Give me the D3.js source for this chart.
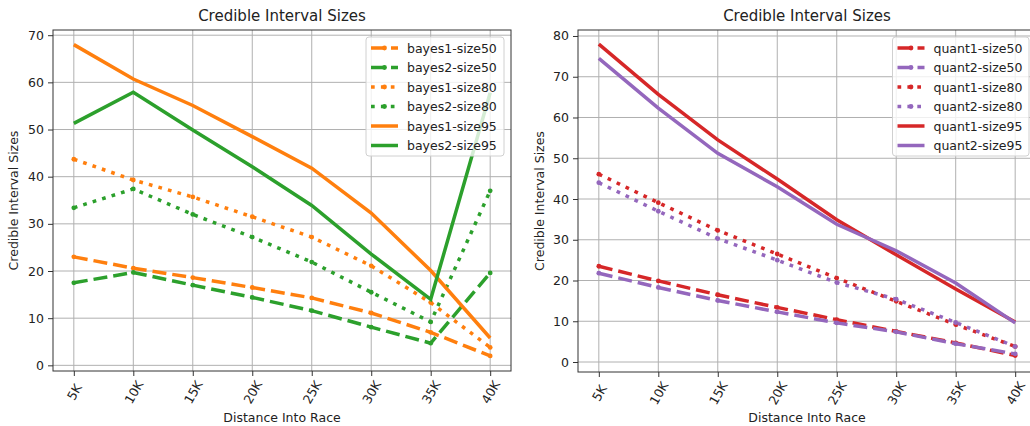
<!DOCTYPE html>
<html>
<head>
<meta charset="utf-8">
<script src="https://cdn.jsdelivr.net/npm/d3@7"></script>
<style>
  body { margin: 0; background: #fff; }
  svg text { font-family: "DejaVu Sans", sans-serif; fill: #222; }
</style>
</head>
<body>
<div id="chart"></div>
<script>
// distances along the course
const distances = ["5K", "10K", "15K", "20K", "25K", "30K", "35K", "40K"];

// left panel - bayes models
const bayes1_size50 = [23.0, 20.6, 18.6, 16.5, 14.3, 11.1, 7.0, 2.0];
const bayes2_size50 = [17.5, 19.7, 17.0, 14.4, 11.6, 8.1, 4.7, 19.6];
const bayes1_size80 = [43.7, 39.3, 35.7, 31.5, 27.2, 21.1, 13.3, 3.8];
const bayes2_size80 = [33.4, 37.4, 32.0, 27.2, 21.9, 15.5, 9.2, 37.0];
const bayes1_size95 = [68.0, 60.7, 55.1, 48.5, 41.8, 32.3, 20.1, 5.8];
const bayes2_size95 = [51.3, 57.9, 49.9, 42.1, 33.9, 23.6, 14.0, 57.8];

// right panel - quantile models
const quant1_size50 = [23.5, 19.9, 16.5, 13.4, 10.4, 7.5, 4.7, 1.6];
const quant2_size50 = [21.8, 18.3, 15.1, 12.3, 9.6, 7.4, 4.5, 2.0];
const quant1_size80 = [46.1, 39.1, 32.3, 26.5, 20.6, 14.9, 9.2, 3.8];
const quant2_size80 = [44.0, 37.0, 30.3, 25.0, 19.5, 15.4, 9.7, 3.8];
const quant1_size95 = [78.0, 65.7, 54.5, 44.9, 34.9, 26.3, 17.9, 9.8];
const quant2_size95 = [74.5, 62.3, 51.2, 43.0, 33.8, 27.3, 19.4, 9.6];

const leftTicks = [0, 10, 20, 30, 40, 50, 60, 70];
const rightTicks = [0, 10, 20, 30, 40, 50, 60, 70, 80];

const orange = "#ff7f0e", green = "#2ca02c", red = "#d62728", purple = "#9467bd";

const leftSeries = [
  { name: "bayes1-size50", values: bayes1_size50, color: orange, style: "dashed" },
  { name: "bayes2-size50", values: bayes2_size50, color: green, style: "dashed" },
  { name: "bayes1-size80", values: bayes1_size80, color: orange, style: "dotted" },
  { name: "bayes2-size80", values: bayes2_size80, color: green, style: "dotted" },
  { name: "bayes1-size95", values: bayes1_size95, color: orange, style: "solid" },
  { name: "bayes2-size95", values: bayes2_size95, color: green, style: "solid" }
];
const rightSeries = [
  { name: "quant1-size50", values: quant1_size50, color: red, style: "dashed" },
  { name: "quant2-size50", values: quant2_size50, color: purple, style: "dashed" },
  { name: "quant1-size80", values: quant1_size80, color: red, style: "dotted" },
  { name: "quant2-size80", values: quant2_size80, color: purple, style: "dotted" },
  { name: "quant1-size95", values: quant1_size95, color: red, style: "solid" },
  { name: "quant2-size95", values: quant2_size95, color: purple, style: "solid" }
];

const dashes = { dashed: "14,6", dotted: "3.7,6.2", solid: null };
const lineW = 3.5;
const dotR = 2.4;

const svg = d3.select("#chart").append("svg")
  .attr("width", 1030)
  .attr("height", 426);

function drawPanel(box, series, yDomain, yTicks, yLabelX, legendBox) {
  const x = d3.scalePoint().domain(distances).range([box.left, box.right]).padding(0.35);
  const y = d3.scaleLinear().domain(yDomain).range([box.bottom, box.top]);

  const g = svg.append("g");

  // grid
  g.append("g").selectAll("line.vg").data(distances).enter().append("line")
    .attr("x1", d => x(d)).attr("x2", d => x(d))
    .attr("y1", box.top).attr("y2", box.bottom)
    .attr("stroke", "#b0b0b0").attr("stroke-width", 1);
  g.append("g").selectAll("line.hg").data(yTicks).enter().append("line")
    .attr("x1", box.left).attr("x2", box.right)
    .attr("y1", d => y(d)).attr("y2", d => y(d))
    .attr("stroke", "#b0b0b0").attr("stroke-width", 1);

  // axes
  const xAxis = g.append("g")
    .attr("transform", "translate(0," + box.bottom + ")")
    .call(d3.axisBottom(x).tickSize(5).tickSizeOuter(0));
  xAxis.select(".domain").remove();
  xAxis.selectAll("line").attr("stroke", "#333");
  xAxis.selectAll("text")
    .attr("y", 0).attr("dy", null)
    .attr("dominant-baseline", "central")
    .attr("text-anchor", "middle")
    .attr("transform", "translate(0,21) rotate(-60)")
    .style("font-size", "12.5px").attr("fill", "#222");

  const yAxis = g.append("g")
    .attr("transform", "translate(" + box.left + ",0)")
    .call(d3.axisLeft(y).tickValues(yTicks).tickSize(5).tickSizeOuter(0).tickPadding(4));
  yAxis.select(".domain").remove();
  yAxis.selectAll("line").attr("stroke", "#333");
  yAxis.selectAll("text").style("font-size", "12.5px").attr("fill", "#222");

  // lines
  const line = d3.line().x((d, i) => x(distances[i])).y(d => y(d));
  const clipId = "clip" + Math.round(box.left);
  svg.append("defs").append("clipPath").attr("id", clipId)
    .append("rect").attr("x", box.left).attr("y", box.top)
    .attr("width", box.right - box.left).attr("height", box.bottom - box.top);
  const lg = g.append("g").attr("clip-path", "url(#" + clipId + ")");
  series.forEach(s => {
    lg.append("path")
      .attr("d", line(s.values))
      .attr("fill", "none")
      .attr("stroke", s.color)
      .attr("stroke-width", lineW)
      .attr("stroke-dasharray", dashes[s.style]);
    if (s.style !== "solid") {
      lg.selectAll(null).data(s.values).enter().append("circle")
        .attr("cx", (d, i) => x(distances[i]))
        .attr("cy", d => y(d))
        .attr("r", dotR)
        .attr("fill", s.color);
    }
  });

  // frame
  g.append("rect")
    .attr("x", box.left).attr("y", box.top)
    .attr("width", box.right - box.left).attr("height", box.bottom - box.top)
    .attr("fill", "none").attr("stroke", "#333").attr("stroke-width", 1);

  // title and labels
  const cx = (box.left + box.right) / 2;
  svg.append("text").attr("x", cx).attr("y", 21)
    .attr("text-anchor", "middle").style("font-size", "15px")
    .text("Credible Interval Sizes");
  svg.append("text").attr("x", cx).attr("y", 422)
    .attr("text-anchor", "middle").style("font-size", "12.5px")
    .text("Distance Into Race");
  svg.append("text")
    .attr("transform", "translate(" + yLabelX + "," + ((box.top + box.bottom) / 2) + ") rotate(-90)")
    .attr("text-anchor", "middle").attr("dominant-baseline", "central")
    .style("font-size", "12.5px")
    .text("Credible Interval Sizes");

  // legend
  const leg = svg.append("g");
  leg.append("rect")
    .attr("x", legendBox.x).attr("y", legendBox.y)
    .attr("width", legendBox.w).attr("height", legendBox.h)
    .attr("rx", 3)
    .attr("fill", "#fff").attr("fill-opacity", 0.8)
    .attr("stroke", "#d0d0d0").attr("stroke-width", 1);
  const rowH = 19.5;
  series.forEach((s, i) => {
    const yy = legendBox.y + 11 + i * rowH;
    const hx = legendBox.x + 5;
    leg.append("line")
      .attr("x1", hx).attr("x2", hx + 27)
      .attr("y1", yy).attr("y2", yy)
      .attr("stroke", s.color).attr("stroke-width", lineW)
      .attr("stroke-dasharray", dashes[s.style]);
    if (s.style !== "solid") {
      leg.append("circle").attr("cx", hx + 13.5).attr("cy", yy).attr("r", dotR).attr("fill", s.color);
    }
    leg.append("text")
      .attr("x", hx + 36).attr("y", yy)
      .attr("dominant-baseline", "central")
      .style("font-size", "12.5px")
      .text(s.name);
  });
}

drawPanel({ left: 53, right: 511, top: 30, bottom: 371 }, leftSeries, [-1.2, 71.1], leftTicks, 13,
  { x: 366, y: 37, w: 138, h: 119 });
drawPanel({ left: 578, right: 1036, top: 30, bottom: 372 }, rightSeries, [-2.45, 81.47], rightTicks, 539,
  { x: 892.5, y: 37, w: 136.5, h: 119 });
</script>
</body>
</html>
